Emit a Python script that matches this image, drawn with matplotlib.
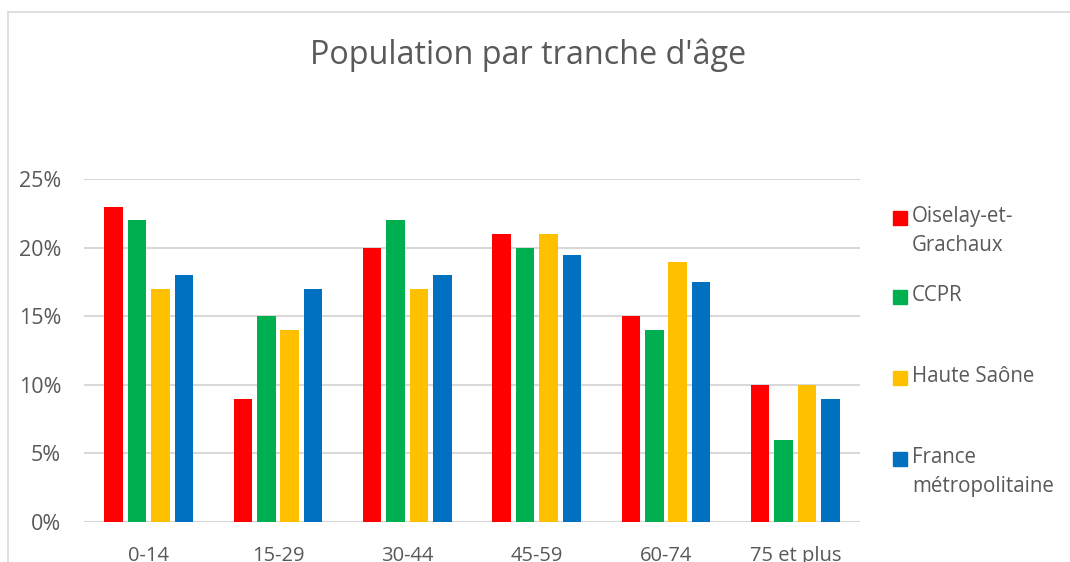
import matplotlib
matplotlib.use("Agg")
import matplotlib.pyplot as plt
import numpy as np
from matplotlib.patches import Rectangle
from matplotlib.lines import Line2D

# data (percent)
categories = ["0-14", "15-29", "30-44", "45-59", "60-74", "75 et plus"]
oiselay = [23, 9, 20, 21, 15, 10]
ccpr = [22, 15, 22, 20, 14, 6]
haute_saone = [17, 14, 17, 21, 19, 10]
france = [18, 17, 18, 19.5, 17.5, 9]
series_names = ["Oiselay-et-\nGrachaux", "CCPR", "Haute Saône", "France\nmétropolitaine"]
colors = ["#ff0000", "#00b050", "#ffc000", "#0070c0"]

plt.rcParams['font.family'] = ['Open Sans', 'DejaVu Sans']
txt_col = "#595959"

W, H = 1070, 562
fig = plt.figure(figsize=(W / 100, H / 100), dpi=100)

# plot area in pixels: x 84..860, y 179..522
ax = fig.add_axes([84 / W, (H - 522) / H, (860 - 84) / W, (522 - 179.3) / H])

x = np.arange(len(categories))
step = 0.181
bw = 0.143
for i, vals in enumerate([oiselay, ccpr, haute_saone, france]):
    ax.bar(x + (i - 1.5) * step, vals, width=bw, color=colors[i], zorder=3)

ax.set_xlim(-0.5, len(categories) - 0.5)
ax.set_ylim(0, 25)
ax.set_yticks(range(0, 26, 5))
ax.set_yticklabels([f"{v}%" for v in range(0, 26, 5)])
ax.set_xticks(x)
ax.set_xticklabels(categories)
ax.grid(axis="y", color="#d9d9d9", linewidth=1.5, zorder=0)
for s in ax.spines.values():
    s.set_visible(False)
ax.tick_params(length=0, labelsize=14.5, colors=txt_col)
ax.tick_params(axis="y", pad=16.5, labelsize=15.5)
ax.tick_params(axis="x", pad=17)

# title
fig.text(528 / W, 1 - 55 / H, "Population par tranche d'âge", ha="center", va="center",
         fontsize=23.3, color=txt_col)

# legend, drawn by hand to follow the wrapped entries
leg_y = [218, 297, 378, 459]
for name, c, yy in zip(series_names, colors, leg_y):
    fig.add_artist(Rectangle((893 / W, 1 - (yy + 7) / H), 14 / W, 14 / H,
                             transform=fig.transFigure, color=c))
    fig.text(912 / W, 1 - (yy - 12) / H, name, ha="left", va="top", fontsize=14.8,
             color=txt_col, linespacing=1.5)

# chart border (top and left edges visible in the crop)
fig.add_artist(Line2D([8 / W, 1], [1 - 12 / H, 1 - 12 / H], transform=fig.transFigure,
                      color="#d9d9d9", lw=1.2))
fig.add_artist(Line2D([8 / W, 8 / W], [0, 1 - 12 / H], transform=fig.transFigure,
                      color="#d9d9d9", lw=1.2))

fig.savefig("out.png", dpi=100)
